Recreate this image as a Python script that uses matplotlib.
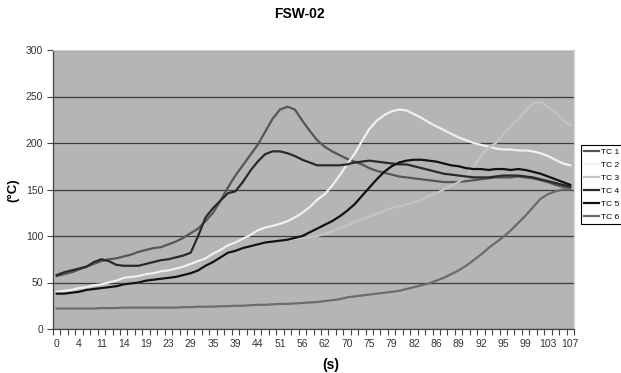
import numpy as np
import matplotlib
matplotlib.use("Agg")
import matplotlib.pyplot as plt

plt.rcParams["font.family"] = ["Liberation Sans", "DejaVu Sans"]

# time labels shown under every third sample
x_labels = ["0", "4", "11", "14", "19", "23", "29", "35", "39", "44", "51", "56",
            "62", "70", "75", "79", "82", "86", "89", "92", "95", "99", "103", "107"]

tc1 = [57, 59, 61, 64, 67, 70, 73, 75, 76, 78, 80, 83, 85, 87, 88, 91, 94, 98, 103, 108, 116, 125, 138, 152,
       165, 176, 187, 198, 212, 226, 236, 239, 236, 224, 213, 203, 196, 191, 187, 183, 180, 177, 173, 170, 168, 166, 164, 163,
       162, 161, 160, 159, 158, 158, 158, 159, 160, 161, 162, 163, 163, 163, 164, 163, 162, 160, 158, 155, 153, 151]
tc2 = [40, 41, 42, 44, 45, 47, 48, 50, 52, 55, 56, 57, 59, 60, 62, 63, 65, 67, 70, 73, 76, 81, 85, 90,
       93, 97, 101, 106, 109, 111, 113, 116, 120, 125, 131, 139, 145, 154, 165, 177, 188, 202, 215, 224, 230, 234, 236, 235,
       231, 227, 222, 218, 214, 210, 206, 203, 200, 198, 196, 194, 193, 193, 192, 192, 191, 189, 186, 182, 178, 176]
tc3 = [38, 38, 39, 40, 42, 43, 44, 45, 46, 48, 49, 50, 52, 53, 54, 55, 56, 58, 60, 63, 67, 72, 77, 82,
       84, 87, 89, 91, 93, 94, 95, 96, 97, 98, 99, 100, 102, 105, 108, 111, 115, 118, 121, 124, 127, 130, 132, 134,
       136, 139, 143, 146, 150, 154, 158, 164, 175, 186, 195, 200, 209, 218, 226, 235, 243, 244, 239, 233, 225, 219]
tc4 = [58, 61, 63, 65, 67, 72, 75, 73, 69, 68, 68, 68, 70, 72, 74, 75, 77, 79, 82, 100, 120, 130, 138, 146,
       148, 158, 170, 180, 188, 191, 191, 189, 186, 182, 179, 176, 176, 176, 176, 177, 179, 180, 181, 180, 179, 178, 177, 177,
       175, 173, 171, 169, 167, 166, 165, 164, 163, 163, 163, 164, 165, 165, 165, 164, 163, 161, 159, 157, 155, 153]
tc5 = [38, 38, 39, 40, 42, 43, 44, 45, 46, 48, 49, 50, 52, 53, 54, 55, 56, 58, 60, 63, 68, 72, 77, 82,
       84, 87, 89, 91, 93, 94, 95, 96, 98, 100, 104, 108, 112, 116, 121, 127, 134, 143, 152, 161, 169, 175, 179, 181,
       182, 182, 181, 180, 178, 176, 175, 173, 172, 172, 171, 172, 172, 171, 172, 171, 169, 167, 164, 161, 158, 155]
tc6 = [22, 22, 22, 22, 22, 22, 22.5, 22.5, 22.5, 23, 23, 23, 23, 23, 23, 23, 23, 23.5, 23.5, 24, 24, 24, 24.5, 24.5,
       25, 25, 25.5, 26, 26, 26.5, 27, 27, 27.5, 28, 28.5, 29, 30, 31, 32, 34, 35, 36, 37, 38, 39, 40, 41, 43,
       45, 47, 49, 52, 55, 59, 63, 68, 74, 80, 87, 93, 99, 106, 114, 122, 131, 140, 145, 148, 150, 150]

names = ["TC 1", "TC 2", "TC 3", "TC 4", "TC 5", "TC 6"]
colors = ["#565656", "#f0f0f0", "#c4c4c4", "#2a2a2a", "#111111", "#6c6c6c"]

fig = plt.figure(figsize=(6.21, 3.73), dpi=100)
ax = fig.add_axes([53 / 621, 1 - 329 / 373, 521 / 621, 279 / 373])
ax.set_facecolor("#b5b5b5")

x = np.arange(len(tc1))
for y, name, c in zip([tc1, tc2, tc3, tc4, tc5, tc6], names, colors):
    ax.plot(x, y, color=c, lw=1.6, label=name, zorder=3)

ax.set_xlim(-0.5, len(x) - 0.5)
ax.set_ylim(0, 300)
ax.set_yticks(np.arange(0, 301, 50))
ax.yaxis.grid(True, color="#3c3c3c", lw=0.9)
ax.set_axisbelow(True)

ax.set_xticks(x[::3])
ax.set_xticklabels(x_labels)
ax.set_xticks(np.arange(-0.5, len(x), 1), minor=True)
ax.tick_params(axis="x", which="major", length=0, pad=7, labelsize=7.5, labelcolor="#333333")
ax.tick_params(axis="x", which="minor", length=4, width=0.8, color="#444444")
ax.tick_params(axis="y", length=4, width=0.8, color="#444444", pad=3, labelsize=7.5, labelcolor="#333333")

for s in ["left", "bottom"]:
    ax.spines[s].set_color("#444444")
    ax.spines[s].set_linewidth(0.9)
for s in ["top", "right"]:
    ax.spines[s].set_color("#d8d8d8")
    ax.spines[s].set_linewidth(0.9)

fig.text(299 / 621, 1 - 14 / 373, "FSW-02", ha="center", va="center", fontsize=10, fontweight="bold")
fig.text(13 / 621, 1 - 190 / 373, "(°C)", ha="center", va="center", rotation=90, fontsize=9.5, fontweight="bold")
fig.text(331 / 621, 1 - 365 / 373, "(s)", ha="center", va="center", fontsize=10, fontweight="bold")

leg = fig.legend(loc="upper left", bbox_to_anchor=(581 / 621, 1 - 145 / 373), fontsize=6,
                 handlelength=1.8, handletextpad=0.2, borderpad=0.35, labelspacing=0.62,
                 fancybox=False, framealpha=1, edgecolor="black", borderaxespad=0)
leg.get_frame().set_linewidth(0.8)

fig.savefig("out.png", dpi=100)
